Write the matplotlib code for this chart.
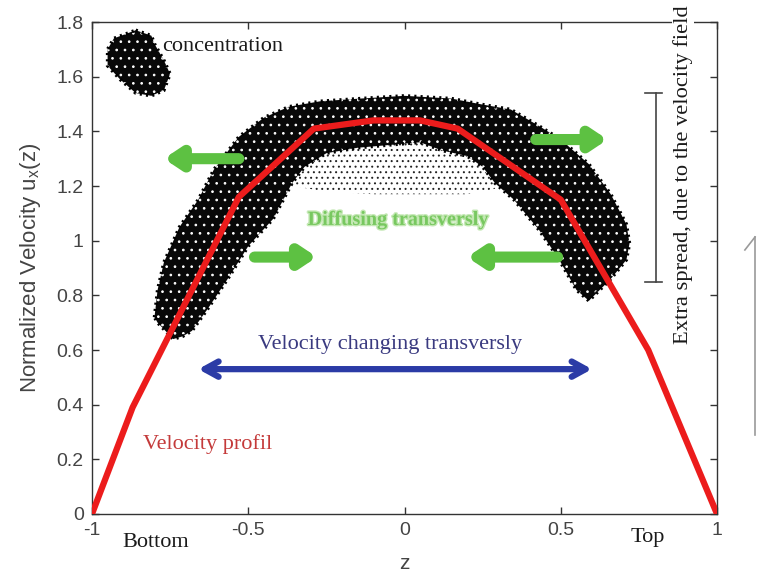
import matplotlib

matplotlib.use("Agg")
import matplotlib.pyplot as plt
import matplotlib.patheffects as pe
from matplotlib.lines import Line2D
import numpy as np

# ---- velocity profile (red polyline) ----
profile_z = [-1.0, -0.87, -0.53, -0.29, -0.10, 0.05, 0.17, 0.50, 0.78, 1.0]
profile_u = [0.0, 0.39, 1.16, 1.41, 1.44, 1.44, 1.41, 1.15, 0.60, 0.0]

# ---- particle cloud outline: outer edge (left -> right), then inner edge (right -> left) ----
cloud_z = [-0.80, -0.79, -0.77, -0.72, -0.66, -0.61, -0.53, -0.45, -0.37, -0.27,
           -0.14, 0.00, 0.15, 0.24, 0.34, 0.43, 0.50, 0.59, 0.66, 0.71, 0.72,
           0.71, 0.66, 0.59,
           0.55, 0.49, 0.43, 0.35, 0.29, 0.25, 0.20, 0.12, 0.05, -0.05, -0.15,
           -0.25, -0.32, -0.36, -0.42, -0.50, -0.56, -0.63, -0.68, -0.71, -0.74, -0.79]
cloud_u = [0.72, 0.82, 0.92, 1.05, 1.15, 1.26, 1.38, 1.45, 1.49, 1.51,
           1.52, 1.53, 1.52, 1.50, 1.48, 1.42, 1.37, 1.28, 1.17, 1.06, 0.99,
           0.93, 0.86, 0.78,
           0.82, 0.94, 1.04, 1.15, 1.21, 1.27, 1.31, 1.33, 1.36, 1.35, 1.34,
           1.32, 1.27, 1.21, 1.08, 0.98, 0.87, 0.75, 0.67, 0.65, 0.64, 0.70]

# sparse speckle below the top of the cloud
speckle_z = [-0.36, -0.25, -0.10, 0.05, 0.20, 0.29, 0.29, 0.20, 0.05, -0.10, -0.25, -0.36]
speckle_u = [1.22, 1.33, 1.35, 1.36, 1.31, 1.22, 1.19, 1.17, 1.17, 1.17, 1.18, 1.20]

# initial concentration blob
blob_z = [-0.86, -0.81, -0.80, -0.77, -0.75, -0.77, -0.81, -0.86, -0.91, -0.95, -0.95, -0.93]
blob_u = [1.77, 1.75, 1.72, 1.66, 1.61, 1.55, 1.53, 1.54, 1.59, 1.64, 1.70, 1.74]

# diffusion arrows (tail z, head z, level u)
green_tail_z = [-0.53, -0.48, 0.42, 0.49]
green_head_z = [-0.77, -0.28, 0.65, 0.20]
green_u = [1.30, 0.94, 1.37, 0.94]

# transverse velocity arrow
blue_z = [-0.66, 0.60]
blue_u = 0.53

# extra-spread bracket
bracket_z = 0.805
bracket_u = [0.85, 1.54]

xticks = [-1, -0.5, 0, 0.5, 1]
xtick_labels = ["-1", "-0.5", "0", "0.5", "1"]
yticks = [0, 0.2, 0.4, 0.6, 0.8, 1.0, 1.2, 1.4, 1.6, 1.8]
ytick_labels = ["0", "0.2", "0.4", "0.6", "0.8", "1", "1.2", "1.4", "1.6", "1.8"]

SERIF = "Liberation Serif"
SANS = "Liberation Sans"
plt.rcParams["font.family"] = [SANS, "DejaVu Sans"]
plt.rcParams["mathtext.fontset"] = "custom"
plt.rcParams["mathtext.rm"] = SANS
plt.rcParams["mathtext.it"] = SANS
plt.rcParams["hatch.linewidth"] = 0.7

fig = plt.figure(figsize=(7.57, 5.72), dpi=100)
ax = fig.add_axes([0.1215, 0.1014, 0.8257, 0.8601])

# cloud of particles: dark core with white speckle, fuzzy dotted rim
ax.fill(cloud_z, cloud_u, facecolor="#080808", edgecolor="white", hatch="..",
        linewidth=0, zorder=2)
ax.fill(cloud_z, cloud_u, facecolor="none", edgecolor="black", linewidth=2.5,
        linestyle=(0, (0.6, 1.2)), zorder=2)
ax.fill(speckle_z, speckle_u, facecolor="white", edgecolor="#222222", hatch="...",
        linewidth=0, zorder=1.9)
ax.fill(blob_z, blob_u, facecolor="#080808", edgecolor="white", hatch="..",
        linewidth=0, zorder=2)
ax.fill(blob_z, blob_u, facecolor="none", edgecolor="black", linewidth=2.5,
        linestyle=(0, (0.6, 1.2)), zorder=2)

# velocity profile
ax.plot(profile_z, profile_u, color="#ec1c1c", linewidth=4.5, solid_joinstyle="round",
        zorder=4)

# green diffusion arrows
for zt, zh, u in zip(green_tail_z, green_head_z, green_u):
    ax.annotate("", xy=(zh, u), xytext=(zt, u),
                arrowprops=dict(arrowstyle="-|>,head_length=0.9,head_width=0.6",
                                color="#5dc142", lw=8, shrinkA=0, shrinkB=0,
                                joinstyle="round", capstyle="round"),
                zorder=5)

# blue double arrow
ax.annotate("", xy=(blue_z[0], blue_u), xytext=(blue_z[1], blue_u),
            arrowprops=dict(arrowstyle="<->,head_length=1.0,head_width=0.55",
                            color="#2b3ba6", lw=4.5, shrinkA=0, shrinkB=0,
                            capstyle="round"),
            zorder=5)

# bracket for the extra spread
ax.plot([bracket_z, bracket_z], bracket_u, color="#444444", lw=1.2, zorder=3)
for u in bracket_u:
    ax.plot([bracket_z - 0.035, bracket_z + 0.02], [u, u], color="#444444", lw=1.2,
            zorder=3)

# annotations
ax.text(-0.775, 1.71, "concentration", family=SERIF, fontsize=16, color="#1a1a1a",
        ha="left", va="center", zorder=6)
ax.text(-0.02, 1.076, "Diffusing transversly", family=SERIF, fontsize=14.5,
        fontweight="bold", color="#78c860", ha="center", va="center", zorder=6,
        path_effects=[pe.withStroke(linewidth=2, foreground="#c4e8b4")])
ax.text(-0.47, 0.62, "Velocity changing transversly", family=SERIF, fontsize=16,
        color="#3a3a80", ha="left", va="center", zorder=6)
ax.text(-0.837, 0.255, "Velocity profil", family=SERIF, fontsize=16,
        color="#c43a3a", ha="left", va="center", zorder=6)
ax.text(-0.904, -0.105, "Bottom", family=SERIF, fontsize=16, color="#1a1a1a",
        ha="left", va="center", clip_on=False)
ax.text(0.722, -0.085, "Top", family=SERIF, fontsize=16, color="#1a1a1a",
        ha="left", va="center", clip_on=False)
ax.text(0.891, 1.24, "Extra spread, due to the velocity field", family=SERIF,
        fontsize=16.2, color="#1a1a1a", rotation=90, ha="center", va="center",
        clip_on=False, zorder=6,
        bbox=dict(facecolor="white", edgecolor="none", pad=1))

# axes styling
ax.set_xlim(-1, 1)
ax.set_ylim(0, 1.8)
ax.set_xticks(xticks)
ax.set_xticklabels(xtick_labels)
ax.set_yticks(yticks)
ax.set_yticklabels(ytick_labels)
ax.tick_params(direction="in", top=True, right=True, length=5, width=1,
               color="#333333", labelsize=14, labelcolor="#444444", pad=6)
for spine in ax.spines.values():
    spine.set_color("#333333")
    spine.set_linewidth(1.0)

ax.set_xlabel("z", fontsize=15, color="#444444")
ax.xaxis.set_label_coords(0.5, -0.082)
ax.set_ylabel("Normalized Velocity u$_x$(z)", fontsize=16, color="#444444",
              va="center")
ax.yaxis.set_label_coords(-0.099, 0.5)

# partial arrow at the right edge
fig.add_artist(Line2D([0.9974, 0.9974], [0.2395, 0.5857], color="#9a9a9a", lw=1.2))
fig.add_artist(Line2D([0.984, 0.9974], [0.563, 0.5857], color="#9a9a9a", lw=1.2))

fig.savefig("out.png", dpi=100)
